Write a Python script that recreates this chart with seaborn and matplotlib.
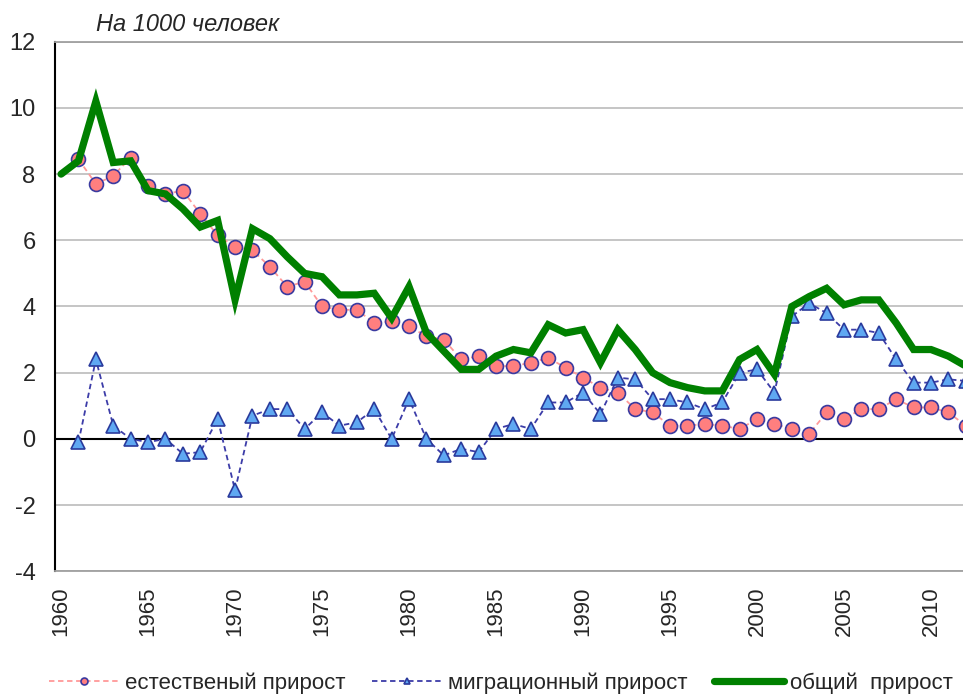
import numpy as np
import pandas as pd
import matplotlib
matplotlib.use('Agg')
import matplotlib.pyplot as plt
import seaborn as sns

years = list(range(1960, 2013))

natural = [np.nan, 8.45, 7.7, 7.95, 8.5, 7.65, 7.4, 7.5, 6.8, 6.15,
           5.8, 5.7, 5.2, 4.6, 4.75, 4.0, 3.9, 3.9, 3.5, 3.55,
           3.4, 3.1, 3.0, 2.4, 2.5, 2.2, 2.2, 2.3, 2.45, 2.15,
           1.85, 1.55, 1.4, 0.9, 0.8, 0.4, 0.4, 0.45, 0.4, 0.3,
           0.6, 0.45, 0.3, 0.15, 0.8, 0.6, 0.9, 0.9, 1.2, 0.95,
           0.95, 0.8, 0.4]

migration = [np.nan, -0.1, 2.4, 0.4, 0.0, -0.1, 0.0, -0.45, -0.4, 0.6,
             -1.55, 0.7, 0.9, 0.9, 0.3, 0.8, 0.4, 0.5, 0.9, 0.0,
             1.2, 0.0, -0.5, -0.3, -0.4, 0.3, 0.45, 0.3, 1.1, 1.1,
             1.4, 0.75, 1.85, 1.8, 1.2, 1.2, 1.1, 0.9, 1.1, 2.0,
             2.1, 1.4, 3.7, 4.1, 3.8, 3.3, 3.3, 3.2, 2.4, 1.7,
             1.7, 1.8, 1.75]

total = [8.0, 8.4, 10.2, 8.35, 8.4, 7.5, 7.4, 6.95, 6.4, 6.6,
         4.2, 6.35, 6.05, 5.5, 5.0, 4.9, 4.35, 4.35, 4.4, 3.65,
         4.6, 3.2, 2.65, 2.1, 2.1, 2.5, 2.7, 2.6, 3.45, 3.2,
         3.3, 2.3, 3.3, 2.7, 2.0, 1.7, 1.55, 1.45, 1.45, 2.4,
         2.7, 1.95, 4.0, 4.3, 4.55, 4.05, 4.2, 4.2, 3.5, 2.7,
         2.7, 2.5, 2.2]

labels = ['естественый прирост', 'миграционный прирост', 'общий  прирост']
xticks = list(range(1960, 2011, 5))
yticks = list(range(-4, 13, 2))

df = pd.DataFrame({'год': years, 'ест': natural, 'мигр': migration, 'общ': total})

sns.set_style('white')
plt.rcParams['font.family'] = ['Liberation Sans', 'DejaVu Sans']

fig = plt.figure(figsize=(9.63, 6.95), dpi=100)
ax = fig.add_axes([0.0571, 0.178, 0.9429, 0.762])

# сетка и нулевая линия
for v in yticks:
    ax.axhline(v, color='#c0c0c0', lw=1.3, zorder=0)
ax.axhline(0, color='black', lw=1.5, zorder=1)

sns.lineplot(data=df, x='год', y='ест', ax=ax, color='#ff9999', lw=1.3,
             linestyle=(0, (3, 2)), marker='o', markersize=10,
             markerfacecolor='#ff7f7f', markeredgecolor='#3a3aa0',
             markeredgewidth=1.2, label=labels[0], zorder=3)
sns.lineplot(data=df, x='год', y='мигр', ax=ax, color='#3c3ca8', lw=1.3,
             linestyle=(0, (3, 2)), marker='^', markersize=10,
             markerfacecolor='#5fa8f2', markeredgecolor='#2a3a9c',
             markeredgewidth=1.2, label=labels[1], zorder=3)
sns.lineplot(data=df, x='год', y='общ', ax=ax, color='#008000', lw=5.2,
             label=labels[2], zorder=4, solid_joinstyle='miter')

ax.set_xlim(1959.65, 2011.84)
ax.set_ylim(-4, 12)
ax.set_xticks(xticks)
ax.set_yticks(yticks)
ax.set_xticklabels([str(x) for x in xticks], rotation=90, fontsize=16)
ax.set_yticklabels([str(v) for v in yticks], fontsize=17)
ax.tick_params(axis='y', length=0, pad=14)
ax.tick_params(axis='x', length=0, pad=11)
ax.set_xlabel('')
ax.set_ylabel('')

for s in ['top', 'bottom']:
    ax.spines[s].set_color('#a0a0a0')
    ax.spines[s].set_linewidth(1.3)
ax.spines['right'].set_visible(False)
ax.spines['left'].set_color('black')
ax.spines['left'].set_linewidth(1.5)

fig.text(0.100, 0.955, 'На 1000 человек', fontsize=17, style='italic')

ax.legend_.remove()
h, l = ax.get_legend_handles_labels()
fig.legend(h, l, loc='center', bbox_to_anchor=(0.52, 0.017), ncol=3,
           frameon=False, fontsize=16, handlelength=3.15, handletextpad=0.27,
           columnspacing=1.2, markerscale=0.5, borderpad=0)

fig.savefig('out.png', dpi=100)
